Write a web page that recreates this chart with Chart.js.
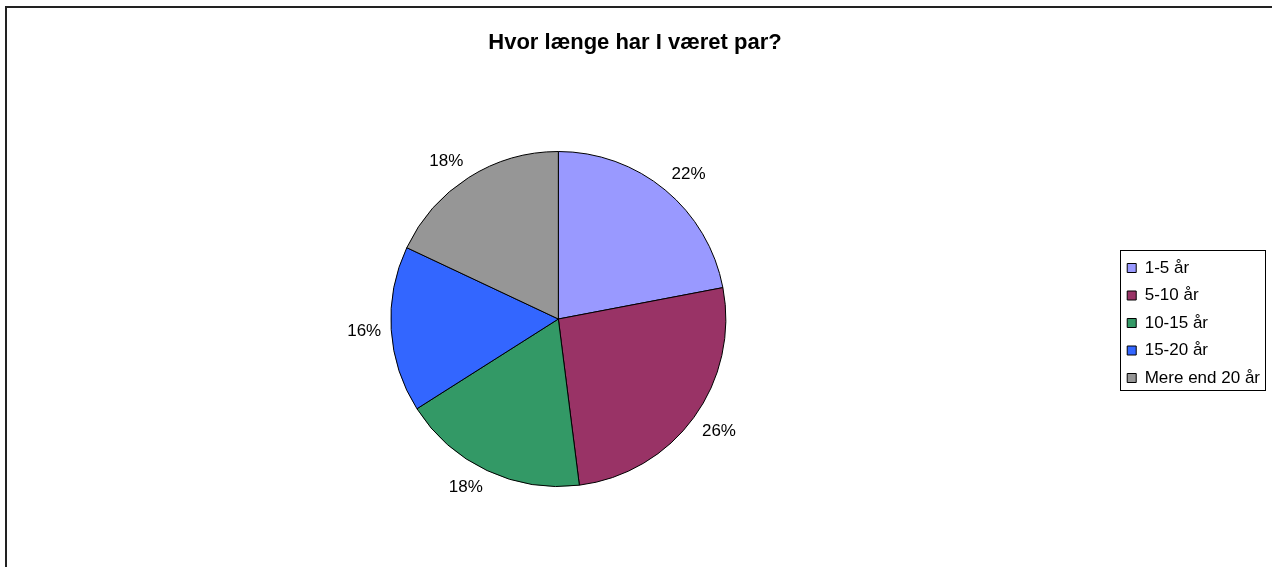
<!DOCTYPE html>
<html>
<head>
<meta charset="utf-8">
<script src="https://cdn.jsdelivr.net/npm/chart.js@4"></script>
<style>
  html, body { margin: 0; padding: 0; background: #fff; overflow: hidden; }
  #wrap { position: relative; width: 1272px; height: 567px; }
  #frame { position: absolute; left: 5px; top: 6px; width: 1400px; height: 700px;
           border-left: 2px solid #222; border-top: 2px solid #222; }
  canvas { position: absolute; left: 0; top: 0; }
</style>
</head>
<body>
<div id="wrap">
  <div id="frame"></div>
  <canvas id="pieChart" width="1272" height="567"></canvas>
</div>
<script>
const chartTitle = 'Hvor længe har I været par?';
const categories = ['1-5 år', '5-10 år', '10-15 år', '15-20 år', 'Mere end 20 år'];
const shares = [22, 26, 18, 16, 18];
const sliceColors = ['#9999FF', '#993366', '#339966', '#3366FF', '#969696'];

const FONT = '"Liberation Sans", Arial, sans-serif';
const clamp = v => Math.max(-1, Math.min(1, v));

// percentage labels outside each slice, Excel style (corner of the text at the anchor)
const outsideLabels = {
    id: 'outsideLabels',
    afterDatasetsDraw(chart) {
        const ctx = chart.ctx;
        const meta = chart.getDatasetMeta(0);
        ctx.save();
        ctx.font = '17px ' + FONT;
        ctx.fillStyle = '#000';
        ctx.textAlign = 'center';
        ctx.textBaseline = 'middle';
        meta.data.forEach((arc, i) => {
            const p = arc.getProps(['x', 'y', 'startAngle', 'endAngle', 'outerRadius'], true);
            const mid = (p.startAngle + p.endAngle) / 2;
            const dx = Math.cos(mid), dy = Math.sin(mid);
            const txt = shares[i] + '%';
            const w = ctx.measureText(txt).width;
            const h = 16;
            const d = p.outerRadius + 10;
            const x = p.x + dx * d + clamp(dx * 3) * w / 2;
            const y = p.y + dy * d + clamp(dy * 3) * h / 2;
            ctx.fillText(txt, x, y);
        });
        ctx.restore();
    }
};

// keep the legend centred beside the pie, and frame it
const legendFrame = {
    id: 'legendFrame',
    afterLayout(chart) {
        const lg = chart.legend, a = chart.chartArea;
        lg.top = a.top + 8;
        lg.bottom = a.bottom;
        lg.height = lg.bottom - lg.top;
    },
    afterDraw(chart) {
        const lg = chart.legend;
        const boxes = lg.legendHitBoxes;
        if (!boxes || !boxes.length) return;
        const pad = lg.options.labels.padding;
        const colH = lg.columnSizes[0].height;
        const t = (lg.top + pad + lg.bottom - colH) / 2;
        const b = t + colH - pad;
        let l = Infinity, r = -Infinity;
        boxes.forEach(h => {
            l = Math.min(l, h.left);
            r = Math.max(r, h.left + h.width);
        });
        const ctx = chart.ctx;
        ctx.save();
        ctx.strokeStyle = '#000';
        ctx.lineWidth = 1;
        ctx.strokeRect(Math.round(l - 7) + 0.5, Math.round(t - 10) + 0.5,
                       Math.round(r - l + 12), Math.round(b - t + 13));
        ctx.restore();
    }
};

new Chart(document.getElementById('pieChart').getContext('2d'), {
    type: 'pie',
    data: {
        labels: categories,
        datasets: [{
            data: shares,
            backgroundColor: sliceColors,
            borderColor: '#000',
            borderWidth: 1
        }]
    },
    options: {
        responsive: false,
        animation: false,
        layout: { padding: { left: 0, right: 2, top: 0, bottom: 80 } },
        plugins: {
            title: {
                display: true,
                text: chartTitle,
                color: '#000',
                font: { family: FONT, size: 22, weight: 'bold' },
                padding: { top: 30, bottom: 94.6 }
            },
            legend: {
                position: 'right',
                labels: {
                    color: '#000',
                    font: { family: FONT, size: 17 },
                    boxWidth: 9,
                    boxHeight: 9,
                    padding: 10.5
                }
            },
            tooltip: { enabled: false }
        }
    },
    plugins: [outsideLabels, legendFrame]
});
</script>
</body>
</html>
